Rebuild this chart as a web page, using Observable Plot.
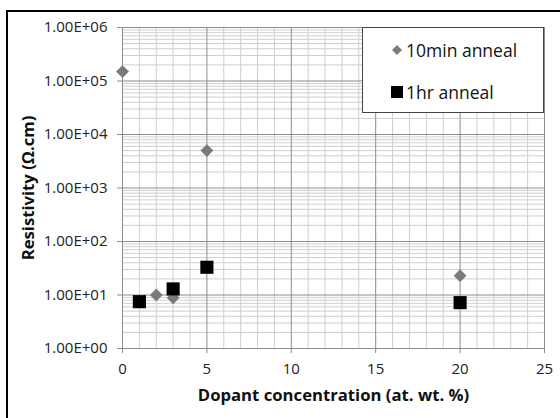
<!DOCTYPE html>
<html>
<head>
<meta charset="utf-8">
<script src="https://cdn.jsdelivr.net/npm/d3@7"></script>
<script src="https://cdn.jsdelivr.net/npm/@observablehq/plot@0.6"></script>
<style>
  body { margin: 0; background: #fff; }
  #wrap { position: relative; width: 560px; height: 418px; overflow: hidden; font-family: "Open Sans", sans-serif; }
  #border { position: absolute; left: 6px; top: 10px; width: 600px; height: 500px; border-top: 2px solid #000; border-left: 2px solid #000; pointer-events: none; }
  #legend { position: absolute; left: 362px; top: 27px; width: 180px; height: 84px; border: 1px solid #444; background: #fff; font-size: 17.5px; color: #111; }
  .item { position: absolute; left: 28px; display: flex; align-items: center; white-space: nowrap; }
  .item svg { margin-right: 3px; }
  svg.plotroot text { font-size: 15px; }
  svg.plotroot g.axtitle text { font-size: 16.7px; font-weight: bold; }
</style>
</head>
<body>
<div id="wrap"><div id="border"></div></div>
<script>
const series10min = "10min anneal";
const series1hr = "1hr anneal";
const x10min = [0, 2, 3, 5, 20];
const y10min = [1.5e5, 10, 8.9, 5.0e3, 23];
const x1hr = [1, 3, 5, 20];
const y1hr = [7.5, 13, 33, 7.2];
const yTicks = [1, 10, 100, 1000, 10000, 100000, 1000000];
const xTicks = [0, 5, 10, 15, 20, 25];

const pts10 = x10min.map((x, i) => ({x, y: y10min[i]}));
const pts1 = x1hr.map((x, i) => ({x, y: y1hr[i]}));

const xMinor = d3.range(0, 26, 1).filter(v => v % 5 !== 0);
const xMajor = [5, 10, 15, 20, 25];
const yMinor = [];
for (let e = 0; e < 6; e++) for (let m = 2; m <= 9; m++) yMinor.push(m * Math.pow(10, e));
const yMajor = yTicks.slice(1);

const fmt = v => {
  const e = Math.round(Math.log10(v));
  return "1.00E+" + String(e).padStart(2, "0");
};

const chart = Plot.plot({
  width: 560,
  height: 418,
  marginLeft: 122,
  marginRight: 16,
  marginTop: 27,
  marginBottom: 70,
  className: "plotroot",
  style: { fontFamily: "'Open Sans', sans-serif", color: "#222", background: "transparent" },
  x: { domain: [0, 25] },
  y: { type: "log", domain: [1, 1e6] },
  marks: [
    Plot.ruleX(xMinor, { stroke: "#cfcfcf", strokeWidth: 1 }),
    Plot.ruleY(yMinor, { stroke: "#cfcfcf", strokeWidth: 1 }),
    Plot.ruleX(xMajor, { stroke: "#8c8c8c", strokeWidth: 1 }),
    Plot.ruleY(yMajor, { stroke: "#8c8c8c", strokeWidth: 1 }),
    Plot.ruleX([0], { stroke: "#8c8c8c" }),
    Plot.ruleY([1], { stroke: "#8c8c8c" }),
    Plot.axisY({ ticks: yTicks, tickFormat: fmt, tickSize: 5, tickPadding: 10, stroke: "#8c8c8c",
      label: "Resistivity (Ω.cm)", labelAnchor: "center", labelArrow: "none", labelOffset: 100 }),
    Plot.axisX({ ticks: xTicks, tickSize: 5, tickPadding: 10, stroke: "#8c8c8c",
      label: "Dopant concentration (at. wt. %)", labelAnchor: "center", labelArrow: "none", labelOffset: 52 }),
    Plot.dot(pts10, { x: "x", y: "y", symbol: "diamond2", r: 5.8, fill: "#7a7a7a", stroke: "none" }),
    Plot.dot(pts1, { x: "x", y: "y", symbol: "square", r: 7.4, fill: "#000", stroke: "none" })
  ]
});

const sel = d3.select(chart);
sel.selectAll("text").each(function () {
  const t = d3.select(this).text();
  if (t === "Resistivity (Ω.cm)" || t === "Dopant concentration (at. wt. %)") {
    d3.select(this.parentNode).classed("axtitle", true).attr("fill", "#111");
  }
});

const wrap = document.getElementById("wrap");
wrap.insertBefore(chart, wrap.firstChild);
chart.style.position = "absolute";
chart.style.left = "0px";
chart.style.top = "0px";

const legend = document.createElement("div");
legend.id = "legend";
legend.innerHTML =
  `<div class="item" style="top:10px"><svg width="12" height="12"><path d="M6,1L11,6L6,11L1,6Z" fill="#7a7a7a"/></svg><span>${series10min}</span></div>` +
  `<div class="item" style="top:52px"><svg width="12" height="12"><rect x="0" y="0" width="12" height="12" fill="#000"/></svg><span>${series1hr}</span></div>`;
wrap.appendChild(legend);
</script>
</body>
</html>
